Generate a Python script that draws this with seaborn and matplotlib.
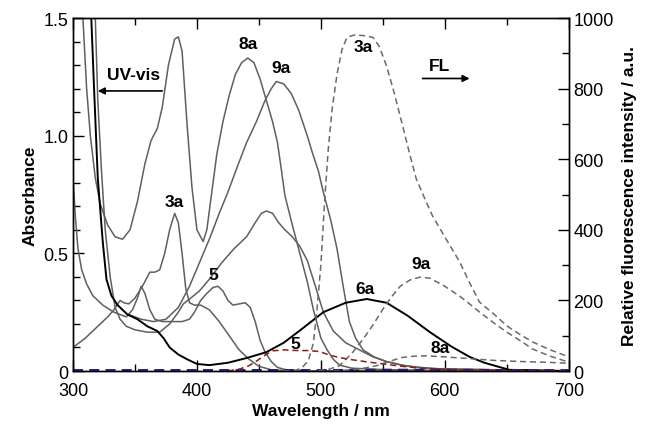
import numpy as np
import matplotlib
matplotlib.use("Agg")
import matplotlib.pyplot as plt
from matplotlib.ticker import MultipleLocator, FixedLocator
import seaborn as sns

# absorption spectra (left axis), wavelength in nm
wl_8a = [305, 308, 311, 314, 318, 322, 328, 334, 340, 346, 352, 358, 363, 368, 372, 377, 382, 385, 388, 392,
         396, 400, 405, 408, 412, 416, 421, 426, 431, 436, 441, 446, 451, 456, 461, 465, 468, 471, 477, 483,
         489, 494, 500, 505, 510, 515, 525, 550, 600, 700]
abs_8a = [2.0, 1.5, 1.2, 1.0, 0.82, 0.71, 0.62, 0.57, 0.56, 0.6, 0.72, 0.88, 0.98, 1.03, 1.12, 1.3, 1.41, 1.42, 1.36, 1.05,
          0.78, 0.6, 0.55, 0.6, 0.76, 0.92, 1.06, 1.17, 1.26, 1.31, 1.33, 1.31, 1.24, 1.15, 1.06, 0.97, 0.86, 0.745, 0.62, 0.5,
          0.38, 0.26, 0.14, 0.09, 0.05, 0.025, 0.012, 0.006, 0.002, 0.0]

wl_9a = [345, 355, 365, 375, 385, 394, 402, 410, 418, 425, 432, 440, 448, 455, 460, 464, 470, 476, 482, 489,
         493, 498, 502, 508, 513, 518, 523, 528, 534, 543, 553, 565, 580, 600, 700]
abs_9a = [0.24, 0.22, 0.21, 0.22, 0.27, 0.36, 0.46, 0.56, 0.67, 0.76, 0.86, 0.97, 1.06, 1.15, 1.2, 1.23, 1.22, 1.18, 1.11, 1.0,
          0.93, 0.85, 0.76, 0.64, 0.52, 0.36, 0.21, 0.14, 0.09, 0.06, 0.04, 0.025, 0.015, 0.008, 0.0]

wl_x = [316, 318, 320, 323, 326, 330, 334, 338, 343, 350, 360, 370, 378, 385, 389, 395, 402, 410, 420, 430,
        440, 447, 452, 456, 461, 466, 471, 477, 483, 489, 495, 502, 510, 520, 531, 542, 553, 570, 590, 700]
abs_x = [2.0, 1.5, 1.15, 0.85, 0.6, 0.4, 0.27, 0.22, 0.19, 0.175, 0.165, 0.165, 0.2, 0.25, 0.285, 0.31, 0.34, 0.39, 0.46, 0.52,
         0.57, 0.63, 0.67, 0.68, 0.67, 0.63, 0.6, 0.57, 0.53, 0.47, 0.37, 0.25, 0.17, 0.12, 0.09, 0.06, 0.04, 0.02, 0.01, 0.0]

wl_5 = [300, 302, 304, 307, 311, 316, 324, 333, 343, 348, 352, 355, 358, 362, 366, 372, 380, 388, 394, 398,
        403, 408, 413, 417, 421, 425, 429, 434, 439, 443, 447, 451, 455, 460, 465, 472, 490, 700]
abs_5 = [0.82, 0.65, 0.52, 0.43, 0.37, 0.32, 0.28, 0.25, 0.23, 0.26, 0.31, 0.36, 0.33, 0.26, 0.22, 0.21, 0.21, 0.21, 0.22, 0.25,
         0.3, 0.33, 0.355, 0.36, 0.34, 0.3, 0.28, 0.285, 0.29, 0.27, 0.21, 0.13, 0.08, 0.04, 0.015, 0.005, 0.0, 0.0]

wl_3a = [300, 305, 310, 316, 322, 328, 333, 338, 341, 345, 350, 356, 362, 366, 370, 374, 378, 382, 385, 388,
         391, 394, 398, 403, 410, 418, 426, 434, 442, 450, 460, 480, 700]
abs_3a = [0.10, 0.12, 0.14, 0.17, 0.2, 0.23, 0.26, 0.30, 0.29, 0.285, 0.31, 0.36, 0.42, 0.42, 0.43, 0.5, 0.6, 0.67, 0.63, 0.5,
          0.35, 0.29, 0.28, 0.28, 0.26, 0.21, 0.15, 0.09, 0.05, 0.02, 0.005, 0.0, 0.0]

wl_6a = [314, 317, 320, 324, 327, 331, 336, 344, 352, 360, 368, 373, 378, 385, 392, 400, 410, 425, 440, 456,
         470, 485, 502, 520, 537, 553, 570, 588, 605, 620, 632, 642, 652, 700]
abs_6a = [1.6, 1.2, 0.82, 0.55, 0.39, 0.32, 0.28, 0.24, 0.22, 0.19, 0.17, 0.14, 0.1, 0.07, 0.05, 0.03, 0.025, 0.035, 0.055, 0.08,
          0.12, 0.18, 0.25, 0.29, 0.306, 0.29, 0.235, 0.165, 0.105, 0.06, 0.035, 0.02, 0.005, 0.0]

# fluorescence spectra (right axis)
wl_fl3a = [470, 480, 485, 490, 494, 497, 500, 503, 506, 509, 513, 517, 521, 527, 535, 542, 547, 553, 559, 566,
           572, 577, 584, 590, 600, 612, 620, 628, 640, 650, 660, 671, 685, 700]
fl_3a = [0, 2, 10, 30, 80, 180, 300, 480, 630, 740, 840, 910, 945, 952, 950, 945, 920, 864, 790, 694,
         610, 544, 487, 440, 380, 309, 250, 195, 160, 128, 105, 82, 60, 40]

wl_fl9a = [490, 505, 515, 525, 534, 542, 550, 557, 564, 572, 580, 588, 600, 612, 620, 628, 640, 650, 660, 671, 685, 700]
fl_9a = [0, 3, 15, 50, 90, 130, 175, 210, 240, 258, 266, 263, 240, 212, 190, 167, 135, 110, 88, 62, 42, 25]

wl_fl8a = [510, 530, 545, 555, 565, 575, 585, 600, 620, 640, 660, 680, 700]
fl_8a = [0, 5, 15, 27, 38, 42, 43, 40, 35, 30, 27, 25, 22]

wl_fl5 = [425, 435, 442, 448, 455, 461, 470, 480, 490, 499, 507, 515, 525, 539, 555, 566, 580, 600, 620, 650, 700]
fl_5 = [0, 6, 15, 28, 45, 57, 60, 58, 58, 55, 45, 38, 32, 25, 18, 13, 8, 4, 2, 1, 0]

wl_fl6a = [300, 400, 500, 550, 600, 650, 700]
fl_6a = [2, 2, 2, 3, 3, 2, 2]

sns.set_style("ticks")
plt.rcParams["font.family"] = ["Liberation Sans", "DejaVu Sans"]
plt.rcParams.update({"text.color": "black", "axes.labelcolor": "black",
                     "xtick.color": "black", "ytick.color": "black"})

fig = plt.figure(figsize=(6.5, 4.27), dpi=100)
ax = fig.add_axes([0.1123, 0.1288, 0.7627, 0.8267])
ax2 = ax.twinx()

gray = "#5f5f5f"
for w, a in [(wl_8a, abs_8a), (wl_9a, abs_9a), (wl_x, abs_x), (wl_5, abs_5), (wl_3a, abs_3a)]:
    sns.lineplot(x=w, y=a, ax=ax, color=gray, lw=1.1, sort=False)
sns.lineplot(x=wl_6a, y=abs_6a, ax=ax, color="black", lw=1.4, sort=False)

dash = (4, 2.5)
sns.lineplot(x=wl_fl6a, y=fl_6a, ax=ax2, color="#1f1f7a", lw=1.8, sort=False, linestyle=(0, dash))
sns.lineplot(x=wl_fl3a, y=fl_3a, ax=ax2, color="#6a6a6a", lw=1.1, sort=False, linestyle=(0, dash))
sns.lineplot(x=wl_fl9a, y=fl_9a, ax=ax2, color="#6a6a6a", lw=1.1, sort=False, linestyle=(0, dash))
sns.lineplot(x=wl_fl8a, y=fl_8a, ax=ax2, color="#6a6a6a", lw=1.1, sort=False, linestyle=(0, dash))
sns.lineplot(x=wl_fl5, y=fl_5, ax=ax2, color="#8b1a1a", lw=1.1, sort=False, linestyle=(0, dash))

ax.set_xlim(300, 700)
ax.set_ylim(0, 1.5)
ax2.set_ylim(0, 1000)

ax.xaxis.set_major_locator(MultipleLocator(100))
ax.xaxis.set_minor_locator(MultipleLocator(50))
ax.yaxis.set_major_locator(FixedLocator([0, 0.5, 1.0, 1.5]))
ax.yaxis.set_minor_locator(MultipleLocator(0.1))
ax.set_yticklabels(["0", "0.5", "1.0", "1.5"])
ax2.yaxis.set_major_locator(MultipleLocator(200))
ax2.yaxis.set_minor_locator(MultipleLocator(100))

ax.tick_params(which="both", direction="in", top=True, labelsize=13, width=1)
ax.tick_params(which="major", length=8)
ax.tick_params(which="minor", length=5)
ax.tick_params(axis="x", pad=8)
ax2.tick_params(which="both", direction="in", labelsize=13, width=1)
ax2.tick_params(which="major", length=8)
ax2.tick_params(which="minor", length=5)
for sp in list(ax.spines.values()) + list(ax2.spines.values()):
    sp.set_visible(True)
    sp.set_linewidth(1.0)
    sp.set_color("black")

ax.set_xlabel("Wavelength / nm", fontsize=12.5, fontweight="bold", labelpad=3)
ax.set_ylabel("Absorbance", fontsize=12.5, fontweight="bold", labelpad=4)
ax2.set_ylabel("Relative fluorescence intensity / a.u.", fontsize=12.5, fontweight="bold", labelpad=6)

lab = dict(fontsize=12.5, fontweight="bold", ha="center", va="center")
ax.text(441, 1.39, "8a", **lab)
ax.text(468, 1.29, "9a", **lab)
ax.text(534, 1.38, "3a", **lab)
ax.text(382, 0.72, "3a", **lab)
ax.text(413, 0.41, "5", **lab)
ax.text(536, 0.35, "6a", **lab)
ax.text(581, 0.455, "9a", **lab)
ax.text(596, 0.10, "8a", **lab)
ax.text(479, 0.115, "5", **lab)
ax.text(349, 1.26, "UV-vis", **lab)
ax.text(596, 1.30, "FL", **lab)

arrow = dict(arrowstyle="-|>", color="black", lw=1.2, mutation_scale=10, shrinkA=0, shrinkB=0)
ax.annotate("", xy=(320, 1.19), xytext=(372, 1.19), arrowprops=arrow)
ax.annotate("", xy=(620, 1.243), xytext=(582, 1.243), arrowprops=arrow)

plt.savefig("out.png", dpi=100)
